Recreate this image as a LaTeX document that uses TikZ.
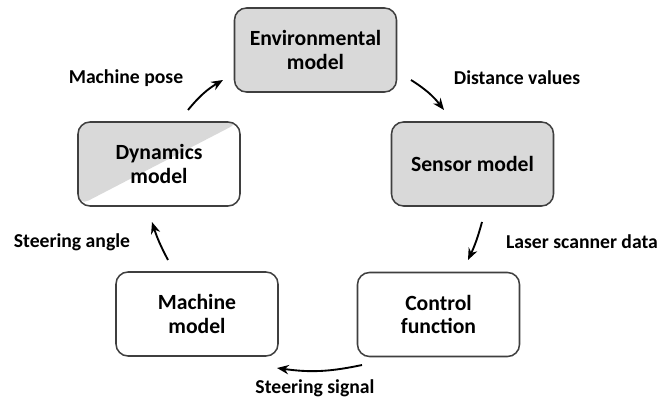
\documentclass[tikz,border=0pt]{standalone}
\usepackage{fontspec}
\setmainfont{Carlito}
\usepackage{tikz}
\usetikzlibrary{arrows.meta}
\definecolor{boxgray}{HTML}{D9D9D9}
\definecolor{boxline}{HTML}{3F3F3F}

\begin{document}
\begin{tikzpicture}[x=0.03cm, y=-0.03cm,
  every node/.style={font=\bfseries, align=center, outer sep=0pt},
  model/.style={draw=boxline, line width=1.3pt, rounded corners=0.36cm, minimum width=4.86cm, minimum height=2.52cm, font=\fontsize{18.5}{20}\bfseries},
  label/.style={font=\fontsize{16.8}{18}\bfseries},
  flow/.style={-{Stealth[length=10pt,width=8pt]}, line width=1.6pt, bend left=10}]
\useasboundingbox (0,0) rectangle (661,401);

\node[model, fill=boxgray] (env) at (315.5,50) {Environmental\\model};
\node[model, fill=boxgray] (sensor) at (472.5,164) {Sensor model};
\node[model] (control) at (438.5,314.5) {Control\\function};
\node[model] (machine) at (197,314) {Machine\\model};
\node[model, path picture={\fill[boxgray] (path picture bounding box.south west) -- (path picture bounding box.north west) -- (path picture bounding box.north east) -- cycle;}] (dynamics) at (159,164) {Dynamics\\model};

\node[label] (pose) at (126,78) {Machine pose};
\node[label] (dist) at (517,78) {Distance values};
\node[label] (laser) at (582,242) {Laser scanner data};
\node[label] (signal) at (315,388) {Steering signal};
\node[label] (angle) at (72,242) {Steering angle};

\coordinate (pose-a) at (188,110);
\coordinate (pose-b) at (223,80);
\coordinate (dist-a) at (411,80);
\coordinate (dist-b) at (444,110);
\coordinate (laser-a) at (482,222);
\coordinate (laser-b) at (468,260);
\coordinate (signal-a) at (362,365);
\coordinate (signal-b) at (277,368);
\coordinate (angle-a) at (168,260);
\coordinate (angle-b) at (152,222);

\draw[flow] (pose-a) to (pose-b);
\draw[flow] (dist-a) to (dist-b);
\draw[flow, bend left=5] (laser-a) to (laser-b);
\draw[flow] (signal-a) to (signal-b);
\draw[flow, bend left=5] (angle-a) to (angle-b);
\end{tikzpicture}
\end{document}
